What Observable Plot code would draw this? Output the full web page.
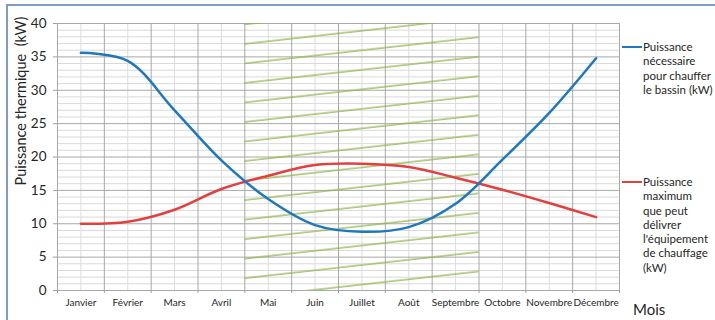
<!DOCTYPE html>
<html><head><meta charset="utf-8">
<script src="https://cdn.jsdelivr.net/npm/d3@7"></script>
<script src="https://cdn.jsdelivr.net/npm/@observablehq/plot@0.6"></script>
<style>
body{margin:0;background:#fff;font-family:Lato,"Open Sans",sans-serif;color:#262626;}
#wrap{position:relative;width:715px;height:320px;overflow:hidden;background:#fff;}
#border{position:absolute;left:6px;top:4px;width:760px;height:360px;border:2px solid #7f9ec4;box-sizing:border-box;}
#chart{position:absolute;left:0;top:0;}
.leg{position:absolute;left:643px;font-size:11.5px;line-height:14.3px;white-space:nowrap;}
.sw{position:absolute;left:622px;width:20px;height:2px;}
#ytitle{position:absolute;left:20px;top:101px;transform:translate(-50%,-50%) rotate(-90deg);font-size:14.5px;white-space:pre;}
#xtitle{position:absolute;left:633px;top:300px;font-size:15px;}
</style>
</head><body>
<div id="wrap">
  <div id="border"></div>
  <div id="chart"></div>
  <div id="ytitle"></div>
  <div id="xtitle"></div>
  <div id="legend"></div>
</div>
<script>
const months = ["Janvier","Février","Mars","Avril","Mai","Juin","Juillet","Août","Septembre","Octobre","Novembre","Décembre"];
const besoin = [35.6, 34.4, 27.0, 19.5, 13.7, 9.8, 8.8, 9.5, 13.0, 19.6, 26.6, 34.8];
const maxEquip = [10.0, 10.3, 12.1, 15.2, 17.2, 18.8, 19.0, 18.5, 16.9, 15.1, 13.1, 11.0];
const yTicks = [0, 5, 10, 15, 20, 25, 30, 35, 40];
const summer = ["Mai", "Septembre"];
const seriesNames = ["Puissance\nnécessaire\npour chauffer\nle bassin (kW)", "Puissance\nmaximum\nque peut\ndélivrer\nl'équipement\nde chauffage\n(kW)"];
const seriesColors = ["#1f78be", "#e2403f"];
const yTitle = "Puissance thermique  (kW)";
const xTitle = "Mois";

const minor = d3.range(0, 41).filter(v => v % 5 !== 0);
const centers = months.map((m, i) => i + 0.5);
const bounds = d3.range(0, months.length + 1);
const hatch = [{x1: months.indexOf(summer[0]), x2: months.indexOf(summer[1]) + 1}];

const plot = Plot.plot({
  width: 715, height: 320,
  marginLeft: 57, marginRight: 96, marginTop: 23, marginBottom: 30,
  style: {fontFamily: "Lato, 'Open Sans', sans-serif", background: "transparent", color: "#262626"},
  x: {type: "linear", domain: [0, months.length], axis: null},
  y: {domain: [0, 40], axis: null},
  marks: [
    Plot.ruleY(minor, {stroke: "#d9d9d9", strokeWidth: 1}),
    Plot.ruleX(centers, {stroke: "#dcdcdc", strokeWidth: 1}),
    Plot.ruleY(yTicks, {stroke: "#a8a8a8", strokeWidth: 1}),
    Plot.ruleX(bounds, {stroke: "#a8a8a8", strokeWidth: 1}),
    Plot.rect(hatch, {x1: "x1", x2: "x2", y1: 0, y2: 40, fill: "url(#hatch)"}),
    Plot.line(months, {x: (d, i) => i + 0.5, y: (d, i) => maxEquip[i], curve: "catmull-rom", stroke: seriesColors[1], strokeWidth: 2.5}),
    Plot.line(months, {x: (d, i) => i + 0.5, y: (d, i) => besoin[i], curve: "catmull-rom", stroke: seriesColors[0], strokeWidth: 2.5}),
    Plot.axisY(yTicks, {tickSize: 4, tickPadding: 7, fontSize: 13.5, stroke: "#a0a0a0", fill: "#262626", label: null}),
    Plot.axisX(bounds, {tickSize: 3, tickFormat: () => "", stroke: "#a0a0a0", label: null}),
    Plot.axisX(centers, {tickSize: 0, tickPadding: 8, fontSize: 10, tickFormat: d => months[Math.round(d - 0.5)], fill: "#262626", label: null})
  ]
});

// hatch pattern
const svg = d3.select(plot);
const defs = svg.insert("defs", ":first-child");
const pat = defs.append("pattern").attr("id", "hatch").attr("patternUnits", "userSpaceOnUse")
  .attr("width", 400).attr("height", 19.4).attr("patternTransform", "rotate(-6.4)");
pat.append("line").attr("x1", 0).attr("x2", 400).attr("y1", 12.8).attr("y2", 12.8)
  .attr("stroke", "#8db347").attr("stroke-width", 1.3);

document.getElementById("chart").appendChild(plot);
document.getElementById("ytitle").textContent = yTitle;
document.getElementById("xtitle").textContent = xTitle;

const legendTops = [47, 182];
const leg = document.getElementById("legend");
seriesNames.forEach((name, i) => {
  const sw = document.createElement("div");
  sw.className = "sw"; sw.style.top = (legendTops[i] - 1) + "px"; sw.style.background = seriesColors[i];
  leg.appendChild(sw);
  const t = document.createElement("div");
  t.className = "leg"; t.style.top = (legendTops[i] - 7) + "px";
  t.innerHTML = name.split("\n").join("<br>");
  leg.appendChild(t);
});
</script>
</body></html>
